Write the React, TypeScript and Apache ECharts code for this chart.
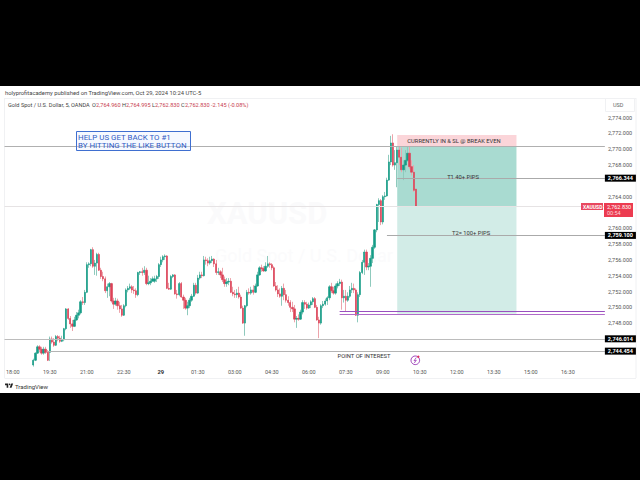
import React, { useEffect, useRef } from "react";
import * as echarts from "echarts";

const barCount = 293;
const firstBar = 14;
const tickStart = 4;
const tickStep = 18;
const timeLabels = ["18:00","19:30","21:00","22:30","29","01:30","03:00","04:30","06:00","07:30","09:00","10:30","12:00","13:30","15:00","16:30"];
const priceTicks = [2748,2750,2752,2754,2756,2758,2760,2764,2768,2770,2772,2774];

const opens = [2742.7,2743.3,2744.2,2745.0,2744.7,2744.2,2744.7,2744.3,2744.3,2746.0,
2745.6,2745.2,2746.3,2746.1,2745.7,2745.9,2747.3,2749.8,2748.6,2747.9,
2747.6,2748.4,2749.0,2749.3,2750.7,2750.6,2751.9,2755.4,2755.5,2757.3,
2755.2,2755.6,2756.7,2754.7,2753.9,2753.6,2752.1,2752.6,2753.0,2750.8,
2750.4,2750.8,2750.2,2749.8,2749.0,2750.2,2752.2,2752.4,2752.6,2752.2,
2752.1,2751.6,2754.4,2754.5,2754.4,2754.7,2753.0,2753.1,2753.3,2753.3,
2753.6,2753.9,2755.4,2756.0,2756.4,2756.5,2752.4,2752.3,2753.9,2754.1,
2751.7,2751.6,2753.0,2751.3,2750.9,2749.9,2750.2,2750.9,2751.4,2752.8,
2751.8,2753.7,2754.1,2754.0,2756.0,2755.9,2755.6,2755.9,2756.1,2755.5,
2754.4,2754.5,2754.1,2753.5,2753.0,2753.2,2753.3,2751.9,2751.7,2751.6,
2751.8,2751.3,2749.9,2748.0,2750.2,2751.9,2751.8,2752.2,2751.9,2752.7,
2754.1,2755.0,2754.9,2754.6,2755.2,2755.5,2755.4,2755.0,2752.7,2752.2,
2751.7,2751.4,2752.4,2751.6,2750.9,2750.6,2750.0,2749.8,2748.5,2748.6,
2748.5,2749.4,2750.6,2750.4,2749.9,2750.3,2750.7,2751.1,2750.0,2748.4,
2748.0,2750.2,2750.4,2750.8,2751.2,2752.6,2752.1,2751.8,2752.7,2753.0,
2753.2,2751.2,2751.4,2750.9,2751.4,2752.2,2752.4,2752.2,2749.0,2751.6,
2754.4,2755.7,2757.0,2755.1,2755.2,2756.2,2757.6,2759.8,2763.0,2763.5,
2760.8,2764.0,2764.1,2766.1,2768.4,2770.8,2768.0,2768.3,2769.9,2769.0,
2767.4,2768.0,2768.6,2769.5,2767.8,2767.1,2764.96];

const closes = [2743.3,2744.2,2745.0,2744.7,2744.2,2744.7,2744.3,2743.3,2746.0,2745.6,
2745.2,2746.3,2746.1,2745.7,2745.9,2747.3,2749.8,2748.6,2747.9,2747.6,
2748.4,2749.0,2749.3,2750.7,2750.6,2751.9,2755.4,2755.5,2757.3,2755.2,
2755.6,2756.7,2754.7,2753.9,2753.6,2752.1,2752.6,2753.0,2750.8,2750.4,
2750.8,2750.2,2749.8,2749.0,2750.2,2752.2,2752.4,2752.6,2752.2,2752.1,
2751.6,2754.4,2754.5,2754.4,2754.7,2753.0,2753.1,2753.3,2753.6,2753.6,
2753.9,2755.4,2756.0,2756.4,2756.5,2752.4,2752.3,2753.9,2754.1,2751.7,
2751.6,2753.0,2751.3,2750.9,2749.9,2750.2,2750.9,2751.4,2752.8,2751.8,
2753.7,2754.1,2754.0,2756.0,2755.9,2755.6,2755.9,2756.1,2755.5,2754.4,
2754.5,2754.1,2753.5,2753.0,2753.2,2753.3,2751.9,2751.7,2751.6,2751.8,
2751.3,2749.9,2748.0,2750.2,2751.9,2751.8,2752.2,2751.9,2752.7,2754.1,
2755.0,2754.9,2754.6,2755.2,2755.5,2755.4,2755.0,2752.7,2752.2,2751.7,
2751.4,2752.4,2751.6,2750.9,2750.6,2750.0,2749.8,2748.5,2748.6,2748.5,
2749.4,2750.6,2750.4,2749.9,2750.3,2750.7,2751.1,2750.0,2748.4,2748.0,
2750.2,2750.4,2750.8,2751.2,2752.6,2752.1,2751.8,2752.7,2753.0,2753.2,
2751.2,2751.4,2750.9,2751.4,2752.2,2752.4,2752.2,2749.0,2751.6,2754.4,
2755.7,2757.0,2755.1,2755.2,2756.2,2757.6,2759.8,2763.0,2763.5,2760.8,
2764.0,2764.1,2766.1,2768.4,2770.8,2768.0,2768.3,2769.9,2769.0,2767.4,
2768.0,2768.6,2769.5,2767.8,2767.1,2764.8,2762.83];

const highs = [2743.5,2744.3,2745.2,2745.2,2745.0,2745.0,2745.0,2744.6,2746.3,2746.3,
2746.1,2746.5,2746.5,2746.4,2746.4,2747.4,2749.9,2749.9,2748.9,2748.4,
2748.8,2749.4,2749.7,2750.9,2751.3,2752.2,2755.7,2755.7,2757.4,2757.6,
2756.0,2756.9,2756.9,2755.0,2754.5,2753.9,2753.0,2753.2,2753.1,2751.2,
2751.2,2751.1,2750.7,2750.3,2750.4,2752.4,2752.7,2753.0,2752.8,2752.7,
2752.4,2754.5,2754.6,2755.0,2755.2,2755.0,2754.0,2753.7,2753.9,2754.0,
2754.1,2755.6,2756.4,2756.6,2756.7,2756.6,2753.1,2754.1,2754.2,2754.2,
2752.2,2753.2,2753.2,2751.6,2751.2,2750.7,2751.2,2751.7,2753.1,2753.1,
2754.1,2754.5,2754.5,2756.5,2756.4,2756.2,2756.4,2756.5,2756.2,2756.0,
2755.0,2754.7,2755.0,2753.9,2753.7,2753.7,2753.7,2752.6,2752.2,2752.3,
2752.6,2751.6,2750.2,2750.3,2752.2,2752.4,2752.6,2752.8,2753.0,2754.5,
2755.2,2755.4,2755.2,2755.7,2756.5,2755.7,2755.6,2755.2,2753.2,2752.8,
2752.4,2752.7,2753.0,2752.2,2751.4,2750.9,2750.7,2750.3,2748.9,2749.1,
2749.7,2750.9,2750.9,2750.7,2750.6,2750.9,2751.3,2751.3,2750.3,2748.8,
2750.4,2750.8,2751.1,2751.4,2752.8,2753.1,2752.6,2753.0,2753.3,2753.6,
2753.5,2752.2,2752.2,2751.9,2752.7,2753.1,2753.0,2752.4,2751.9,2754.6,
2756.0,2757.3,2757.3,2755.6,2756.6,2757.9,2759.9,2763.1,2763.8,2763.7,
2764.2,2764.6,2766.4,2769.3,2771.7,2771.9,2769.9,2770.3,2770.4,2770.2,
2768.6,2769.9,2770.4,2770.4,2768.6,2768.0,2764.995];

const lows = [2742.5,2743.2,2744.1,2744.3,2744.0,2744.0,2744.1,2743.2,2743.2,2745.4,
2745.0,2745.1,2745.7,2745.5,2745.6,2745.7,2747.1,2748.4,2747.4,2747.0,
2747.5,2748.3,2748.6,2749.1,2750.3,2750.3,2751.8,2755.0,2755.2,2755.0,
2754.1,2754.0,2754.6,2753.6,2753.3,2751.8,2751.2,2751.4,2750.6,2749.8,
2750.2,2749.7,2749.3,2748.8,2748.9,2750.0,2751.9,2752.2,2751.8,2751.7,
2751.2,2751.4,2754.1,2754.0,2754.1,2752.8,2752.8,2752.8,2753.3,2753.1,
2753.2,2753.6,2755.1,2755.7,2756.0,2752.3,2752.2,2752.2,2753.7,2751.6,
2751.1,2751.4,2751.2,2749.8,2749.7,2749.0,2749.9,2750.7,2751.3,2751.6,
2751.7,2753.5,2753.7,2753.9,2755.4,2755.2,2755.4,2755.6,2755.1,2754.1,
2754.1,2753.7,2753.2,2752.6,2752.6,2752.8,2751.8,2751.4,2751.2,2751.2,
2751.1,2749.8,2747.9,2746.4,2750.0,2751.6,2751.6,2751.6,2751.8,2752.6,
2754.0,2754.5,2754.5,2754.5,2755.0,2755.0,2754.7,2752.6,2752.0,2751.3,
2751.2,2750.2,2750.9,2750.6,2750.2,2749.4,2749.4,2748.1,2747.4,2748.3,
2748.4,2749.1,2749.8,2749.7,2749.8,2749.9,2750.3,2749.9,2748.3,2746.1,
2747.8,2749.9,2750.2,2750.3,2750.9,2751.8,2751.6,2751.6,2752.4,2752.7,
2749.7,2750.6,2749.5,2750.7,2751.2,2751.8,2751.8,2748.9,2748.1,2751.3,
2754.2,2754.1,2754.7,2754.7,2752.6,2755.6,2757.4,2759.5,2760.8,2760.4,
2760.5,2763.6,2764.0,2766.0,2768.0,2767.8,2767.4,2765.2,2768.0,2767.1,
2766.1,2767.1,2768.4,2767.5,2766.7,2764.6,2762.83];

const resistance = 2770.4;
const target1 = 2766.344;
const target2 = 2759.1;
const support1 = 2746.014;
const support2 = 2744.454;
const lastPrice = 2762.83;
const stopTop = 2771.8;
const zoneTop = 2749.5;
const zoneBottom = 2749.2;

const fmt = (v: number) =>
  v.toLocaleString("en-US", { minimumFractionDigits: 3, maximumFractionDigits: 3 });

const FONT = "Roboto, 'Liberation Sans', sans-serif";

const LOGO_D =
  "M14 6H2v6h6v9h6V6Zm12 15h-7l6-15h7l-6 15Zm-7-9a3 3 0 1 0 0-6 3 3 0 0 0 0 6Z";
echarts.graphic.registerShape("tvlogo", echarts.graphic.extendPath(LOGO_D, {}) as any);

export default function App() {
  const ref = useRef<HTMLDivElement>(null);
  useEffect(() => {
    if (!ref.current) return;
    const chart = echarts.init(ref.current, undefined, { renderer: "svg" });
    const categories = Array.from({ length: barCount }, (_, i) => String(i));
    const pad: any[] = Array(firstBar).fill("-");
    const full = pad.concat(
      opens.map((o, i) => [o, closes[i], lows[i], highs[i]])
    );
    const bodies = pad.concat(
      opens.map((o, i) => [o, closes[i], Math.min(o, closes[i]), Math.max(o, closes[i])])
    );
    const lineItem = (price: number, from: number, color: string, tag?: string) => [
      {
        coord: [String(from), price],
        lineStyle: { color, width: 1, type: "solid" },
        label: tag
          ? {
              show: true,
              position: "end",
              distance: 0,
              formatter: tag,
              color: "#fff",
              backgroundColor: "#000",
              fontFamily: FONT,
              fontWeight: "bold",
              fontSize: 5.5,
              lineHeight: 7,
              padding: [0, 3, 0, 3],
            }
          : { show: false },
      },
      { coord: ["292", price] },
    ];
    const area = (top: number, bottom: number, from: number, to: number, style: any) => [
      { coord: [String(from), top], itemStyle: style },
      { coord: [String(to), bottom] },
    ];
    const txt = (x: number, y: number, text: string, style: any = {}) => ({
      type: "text",
      x,
      y,
      z: 20,
      silent: true,
      style: {
        text,
        fontFamily: FONT,
        fontSize: 5.8,
        fill: "#444",
        verticalAlign: "middle",
        ...style,
      },
    });
    const hair = (x1: number, y1: number, x2: number, y2: number, stroke = "#f0f1f3") => ({
      type: "line",
      z: -5,
      silent: true,
      shape: { x1, y1, x2, y2 },
      style: { stroke, lineWidth: 1 },
    });
    chart.setOption({
      animation: false,
      backgroundColor: "#000",
      grid: { left: 3.5, top: 98, width: 602.4, height: 267, containLabel: false },
      xAxis: {
        type: "category",
        data: categories,
        boundaryGap: true,
        axisLine: { show: false },
        axisTick: { show: false },
        splitLine: { show: false },
        axisLabel: {
          interval: (i: number) => i >= tickStart && (i - tickStart) % tickStep === 0,
          formatter: (_: string, i: number) => {
            const s = timeLabels[(i - tickStart) / tickStep] ?? "";
            return s.length === 2 ? `{day|${s}}` : s;
          },
          rich: { day: { fontWeight: "bold", fontSize: 5.8, color: "#333", fontFamily: FONT } },
          color: "#555",
          fontFamily: FONT,
          fontSize: 5.5,
          margin: 4,
        },
      },
      yAxis: {
        type: "value",
        position: "right",
        min: 2742.7,
        max: 2776.49,
        axisLine: { show: false },
        axisTick: { show: false },
        splitLine: { show: false },
        axisLabel: {
          customValues: priceTicks,
          formatter: (v: number) => fmt(v),
          color: "#555",
          fontFamily: FONT,
          fontSize: 5.5,
          margin: 2,
        },
      },
      series: [
        {
          type: "line",
          data: [],
          z: 1,
          silent: true,
          markArea: {
            silent: true,
            label: { show: false },
            data: [
              area(stopTop, resistance, 191, 249, { color: "#fbd5d9" }),
              area(resistance, lastPrice, 191, 249, { color: "#a9dbd1" }),
              area(lastPrice, zoneBottom, 191, 249, { color: "#d2ece7" }),
            ],
          },
          markLine: {
            silent: true,
            symbol: "none",
            animation: false,
            data: [
              lineItem(lastPrice, 0, "#e6e3e4"),
              lineItem(resistance, 0, "#b0b0b0"),
              lineItem(target1, 191, "#aaaaaa", fmt(target1)),
              lineItem(target2, 186, "#aaaaaa", fmt(target2)),
              lineItem(support1, 0, "#bcbcbc", fmt(support1)),
              lineItem(support2, 21, "#b4b4b4", fmt(support2)),
              lineItem(zoneTop, 163, "#9a4fc0"),
              lineItem(zoneBottom - 0.08, 163, "#b06ac8"),
            ],
          },
        },
        {
          type: "candlestick",
          data: full,
          z: 3,
          barWidth: 1,
          silent: true,
          itemStyle: {
            color: "#8fcabd",
            color0: "#eda4ab",
            borderColor: "#8fcabd",
            borderColor0: "#eda4ab",
            borderWidth: 1,
          },
        },
        {
          type: "candlestick",
          data: bodies,
          z: 4,
          barWidth: 1.8,
          silent: true,
          itemStyle: {
            color: "#159c87",
            color0: "#dc4257",
            borderColor: "#159c87",
            borderColor0: "#dc4257",
            borderWidth: 0.6,
          },
        },
      ],
      graphic: [
        { type: "rect", z: -10, silent: true, shape: { x: 0, y: 86, width: 640, height: 307 }, style: { fill: "#fff" } },
        hair(4.5, 98, 4.5, 378),
        hair(4.5, 98.5, 636, 98.5),
        hair(636, 98, 636, 378),
        hair(4.5, 378.5, 636, 378.5),
        { type: "rect", z: -4, silent: true, shape: { x: 605.5, y: 98.5, width: 29, height: 13 }, style: { fill: "#fff", stroke: "#f0f1f3" } },
        txt(613, 105, "USD", { fontSize: 5.5, fill: "#666" }),
        { ...txt(207, 213, "XAUUSD", { fontSize: 31, fontWeight: "bold", fill: "#fafafb" }), z: -3 },
        { ...txt(215, 255, "Gold Spot / U.S. Dollar", { fontSize: 18, fill: "#fbfbfc" }), z: -3 },
        txt(5, 93, "holyprofitacademy published on TradingView.com, Oct 29, 2024 10:24 UTC-5"),
        txt(8, 105, "Gold Spot / U.S. Dollar, 5, OANDA", { fontSize: 5.6 }),
        txt(92, 105, "O", { fontSize: 5.6 }),
        txt(96, 105, "2,764.960", { fontSize: 5.6, fill: "#c8404f" }),
        txt(122, 105, "H", { fontSize: 5.6 }),
        txt(126, 105, "2,764.995", { fontSize: 5.6, fill: "#c8404f" }),
        txt(152, 105, "L", { fontSize: 5.6 }),
        txt(155, 105, "2,762.830", { fontSize: 5.6, fill: "#c8404f" }),
        txt(181, 105, "C", { fontSize: 5.6 }),
        txt(185, 105, "2,762.830", { fontSize: 5.6, fill: "#c8404f" }),
        txt(211, 105, "-2.145 (-0.08%)", { fontSize: 5.6, fill: "#c8404f" }),
        { type: "rect", z: 19, silent: true, shape: { x: 76.5, y: 131.5, width: 114, height: 19 }, style: { fill: "rgba(230,238,255,0.35)", stroke: "#3f6fd0", lineWidth: 1 } },
        txt(78, 137, "HELP US GET BACK TO #1", { fontSize: 7.9, fill: "#2f5cc4" }),
        txt(78, 145, "BY HITTING THE LIKE BUTTON", { fontSize: 7.9, fill: "#2f5cc4" }),
        txt(454, 140.5, "CURRENTLY IN & SL @ BREAK EVEN", { fontSize: 5.8, fill: "#333", align: "center" }),
        txt(463, 177, "T1 40+ PIPS", { fontSize: 5.8, fill: "#333", align: "center" }),
        txt(471, 233, "T2= 100+ PIPS", { fontSize: 5.8, fill: "#333", align: "center" }),
        txt(364, 356, "POINT OF INTEREST", { fontSize: 5.8, fill: "#333", align: "center" }),
        { type: "circle", z: 20, silent: true, shape: { cx: 415.3, cy: 360.3, r: 4.3 }, style: { fill: "none", stroke: "#9c3cb8", lineWidth: 1 } },
        { type: "polyline", z: 20, silent: true, shape: { points: [[416.3, 357.5], [414, 360.8], [416.3, 360.2], [414.3, 363]] }, style: { stroke: "#9c3cb8", fill: "none", lineWidth: 0.8 } },
        { type: "circle", z: 21, silent: true, shape: { cx: 418.3, cy: 356.8, r: 1.2 }, style: { fill: "#e0305f" } },
        { type: "rect", z: 20, silent: true, shape: { x: 581, y: 203, width: 22, height: 7 }, style: { fill: "#e8485f" } },
        txt(583, 206.7, "XAUUSD", { fontSize: 5, fill: "#fff", fontWeight: "bold" }),
        { type: "rect", z: 20, silent: true, shape: { x: 604, y: 203, width: 29, height: 14 }, style: { fill: "#ec3b50" } },
        txt(607, 206.7, fmt(lastPrice), { fontSize: 5.5, fill: "#fff" }),
        txt(607, 213, "00:54", { fontSize: 5.5, fill: "#fbd5d9" }),
        { type: "tvlogo", x: 4.5, y: 382, scaleX: 0.27, scaleY: 0.27, z: 20, silent: true, style: { fill: "#222" } },
        txt(15, 386, "TradingView", { fontSize: 6, fill: "#333" }),
      ],
    });
    return () => chart.dispose();
  }, []);
  return (
    <div
      ref={ref}
      style={{ position: "fixed", left: 0, top: 0, width: 640, height: 480, background: "#000" }}
    />
  );
}
